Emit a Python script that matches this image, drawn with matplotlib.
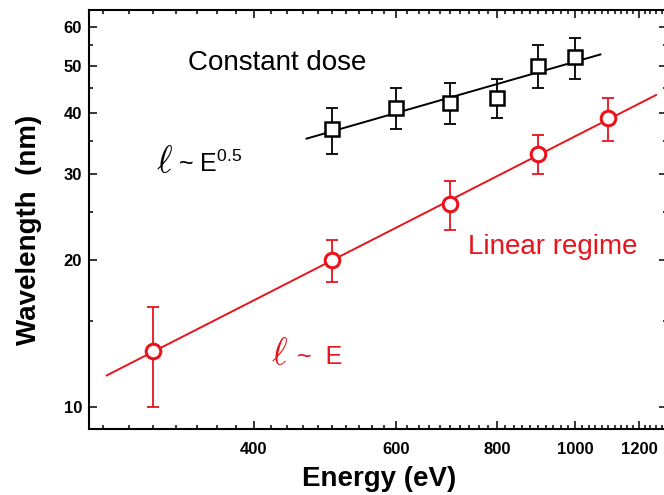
import numpy as np
import matplotlib
matplotlib.use("Agg")
import matplotlib.pyplot as plt
from matplotlib.ticker import FixedLocator, NullFormatter

plt.rcParams['font.family'] = ['Liberation Sans', 'DejaVu Sans']
plt.rcParams['mathtext.fontset'] = 'custom'
plt.rcParams['mathtext.rm'] = 'Liberation Sans'

# linear regime (red circles)
linE = [300, 500, 700, 900, 1100]
linL = [13, 20, 26, 33, 39]
linErr = [3, 2, 3, 3, 4]

# constant dose (black squares)
doseE = [500, 600, 700, 800, 900, 1000]
doseL = [37, 41, 42, 43, 50, 52]
doseErr = [4, 4, 4, 4, 5, 5]

# extent of the power-law fits
linFitRange = (263, 1260)
doseFitRange = (465, 1075)

xMajor = [400, 600, 800, 1000, 1200]
xMinor = list(range(260, 1300, 20))
yMajor = [10, 20, 30, 40, 50, 60]
yMinor = [15, 25, 35, 45, 55]

RED = '#e8141c'


def PowerFit(E, L, eRange):
    # straight line in log-log space
    k, b = np.polyfit(np.log10(E), np.log10(L), 1)
    xs = np.logspace(np.log10(eRange[0]), np.log10(eRange[1]), 50)
    return xs, 10 ** b * xs ** k


def ScalingLabel(ax, x_ell, x_rest, y, rest, color):
    # thin cursive ell, a bit larger than the rest of the label
    ax.text(x_ell, y, r'$\ell$', fontsize=27, math_fontfamily='cm',
            color=color, ha='left', va='baseline')
    ax.text(x_rest, y, rest, fontsize=18, color=color, ha='left', va='baseline')


fig = plt.figure(figsize=(6.64, 4.95), dpi=100)
# right spine sits just past the image edge
ax = fig.add_axes([89 / 664, 66 / 495, 578 / 664, 419 / 495])
ax.set_xscale('log')
ax.set_yscale('log')
ax.set_xlim(250, 1300)
ax.set_ylim(9, 65)

# fit lines
xs, ys = PowerFit(linE, linL, linFitRange)
ax.plot(xs, ys, color=RED, lw=1.4, zorder=2)
xs, ys = PowerFit(doseE, doseL, doseFitRange)
ax.plot(xs, ys, color='black', lw=1.4, zorder=2)

# error bars + open markers
ax.errorbar(linE, linL, yerr=linErr, fmt='none', ecolor=RED, elinewidth=1.3,
            capsize=4.5, capthick=1.3, zorder=3)
ax.plot(linE, linL, 'o', ms=10.5, mfc='white', mec=RED, mew=2.2, zorder=4)
ax.errorbar(doseE, doseL, yerr=doseErr, fmt='none', ecolor='black', elinewidth=1.3,
            capsize=4.5, capthick=1.3, zorder=3)
ax.plot(doseE, doseL, 's', ms=9.5, mfc='white', mec='black', mew=1.8, zorder=4)

# ticks
ax.xaxis.set_major_locator(FixedLocator(xMajor))
ax.xaxis.set_minor_locator(FixedLocator(xMinor))
ax.xaxis.set_major_formatter(plt.FixedFormatter([str(v) for v in xMajor]))
ax.xaxis.set_minor_formatter(NullFormatter())
ax.yaxis.set_major_locator(FixedLocator(yMajor))
ax.yaxis.set_minor_locator(FixedLocator(yMinor))
ax.yaxis.set_major_formatter(plt.FixedFormatter([str(v) for v in yMajor]))
ax.yaxis.set_minor_formatter(NullFormatter())
ax.tick_params(which='both', direction='in', top=True, right=True, width=1.1)
ax.tick_params(which='major', length=5.5, labelsize=12, pad=5)
ax.tick_params(which='minor', length=3)
ax.tick_params(axis='x', which='major', pad=9)
for lbl in ax.get_xticklabels() + ax.get_yticklabels():
    lbl.set_fontweight('bold')
for sp in ax.spines.values():
    sp.set_linewidth(1.5)

ax.set_xlabel('Energy (eV)', fontsize=20, fontweight='bold')
ax.set_ylabel('Wavelength  (nm)', fontsize=20, fontweight='bold')
ax.xaxis.set_label_coords(0.502, -0.088)
ax.yaxis.set_label_coords(-0.081, 0.475)

# annotations
ax.text(332, 50.7, 'Constant dose', fontsize=20, ha='left', va='center')
ax.text(736, 21.2, 'Linear regime', fontsize=20, color=RED, ha='left', va='center')
ScalingLabel(ax, 303, 322, 30.2, '~ E$^{0.5}$', 'black')
ScalingLabel(ax, 420, 452, 12.25, '~  E', RED)

fig.savefig('out.png', dpi=100)
